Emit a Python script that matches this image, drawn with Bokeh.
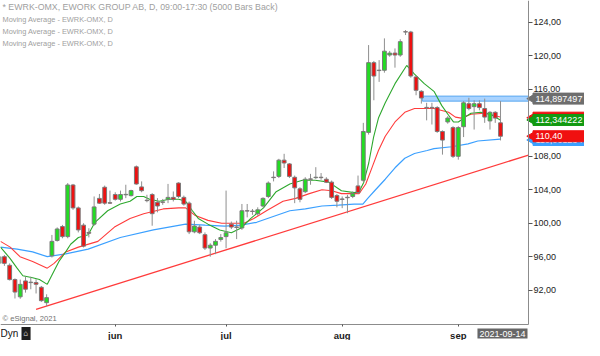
import math
from bokeh.plotting import figure
from bokeh.models import LinearAxis, FixedTicker, Label, Range1d
from bokeh.core.properties import value
from bokeh.embed import file_html
from bokeh.resources import INLINE

# ---------------- data ----------------
opens = [95.2, 96.0, 94.97, 93.26, 91.2, 93.1, 92.9, 92.9, 92.34, 90.5,
         96.1, 97.94, 99.6, 98.4, 104.57, 101.83, 99.77, 98.9, 99.89, 102.97,
         104.3, 102.45, 103.43, 102.86, 103.4, 103.3, 106.74, 104.34, 102.75, 103.43,
         102.51, 102.55, 102.86, 103.09, 104.8, 103.09, 102.4, 98.97, 99.54, 98.63,
         97.03, 97.37, 98.06, 98.4, 99.89, 99.55, 99.43, 101.5, 101.4, 101.14,
         102.06, 103.2, 105.5, 105.6, 107.54, 107.09, 105.49, 104.11, 103.77, 105.3,
         105.45, 105.5, 105.26, 104.91, 103.31, 102.9, 103.1, 103.2, 104.46, 105.14,
         110.86, 119.2, 118.3, 118.29, 120.11, 120.34, 120.11, 122.9, 122.86, 117.49,
         115.77, 113.85, 113.85, 113.83, 110.97, 112.11, 111.43, 108.0, 111.54, 114.29,
         113.94, 114.29, 113.71, 112.23, 113.26, 112.0]
closes = [96.0, 95.2, 93.26, 91.77, 92.69, 92.11, 92.95, 92.7, 90.74, 91.1,
          97.83, 99.31, 98.4, 104.57, 101.83, 99.2, 97.26, 98.8, 101.95, 102.4,
          102.4, 102.4, 102.86, 103.43, 103.45, 103.9, 104.69, 103.89, 102.7, 101.14,
          102.06, 102.5, 103.09, 102.86, 103.2, 102.29, 98.97, 99.66, 98.86, 97.03,
          97.37, 97.83, 98.29, 98.86, 99.54, 99.5, 101.49, 101.45, 101.45, 101.6,
          102.97, 104.8, 105.45, 107.54, 107.2, 105.6, 104.23, 102.86, 105.26, 105.25,
          105.5, 105.45, 104.91, 103.09, 102.63, 102.85, 103.05, 103.54, 103.66, 110.97,
          119.2, 117.6, 118.25, 120.57, 120.34, 120.11, 121.71, 122.86, 117.6, 115.89,
          114.97, 113.8, 113.8, 110.97, 109.94, 112.57, 108.0, 111.43, 114.4, 113.71,
          114.29, 113.83, 112.69, 113.26, 112.57, 110.40]
highs = [96.3, 96.2, 95.2, 93.4, 93.26, 93.6, 93.6, 93.3, 92.5, 91.5,
         98.6, 99.5, 99.8, 104.8, 104.7, 102.0, 100.0, 99.4, 103.2, 103.5,
         104.5, 103.9, 103.7, 103.9, 104.6, 104.0, 106.9, 105.0, 103.4, 103.6,
         103.0, 102.9, 104.7, 103.8, 104.9, 103.3, 102.6, 100.3, 99.8, 98.9,
         97.6, 98.1, 98.7, 103.9, 100.2, 100.3, 102.3, 102.3, 101.7, 101.9,
         103.1, 105.0, 106.2, 107.7, 108.3, 107.2, 105.7, 104.3, 105.5, 105.9,
         106.7, 106.0, 105.5, 105.1, 103.5, 103.2, 103.4, 103.8, 105.7, 112.0,
         121.3, 119.4, 119.5, 122.1, 120.6, 120.9, 122.0, 123.1, 123.0, 117.6,
         115.9, 114.4, 114.4, 114.0, 111.1, 112.8, 111.6, 111.6, 114.6, 115.0,
         114.7, 114.7, 114.9, 113.4, 113.4, 114.6]
lows = [95.0, 94.9, 93.15, 91.0, 90.97, 91.7, 92.1, 91.6, 90.6, 90.06,
        95.9, 97.8, 98.2, 98.2, 101.6, 98.9, 97.1, 98.3, 99.7, 102.3,
        102.2, 102.3, 102.7, 102.6, 103.0, 103.2, 104.6, 103.7, 102.5, 99.7,
        101.3, 102.2, 102.4, 102.6, 103.0, 102.1, 98.7, 98.8, 98.7, 96.8,
        96.0, 96.3, 97.8, 97.0, 99.3, 98.1, 99.2, 100.7, 101.0, 100.9,
        101.9, 103.0, 105.0, 105.4, 106.6, 105.4, 102.4, 102.5, 103.6, 104.6,
        105.3, 105.2, 104.8, 102.9, 101.9, 101.8, 101.2, 103.0, 103.5, 104.9,
        110.6, 114.7, 116.9, 118.0, 119.9, 118.6, 119.9, 122.5, 117.4, 115.3,
        114.3, 112.3, 111.8, 110.8, 108.2, 111.9, 107.8, 107.6, 110.3, 113.5,
        111.2, 113.5, 112.0, 111.2, 112.0, 109.9]
bars = list(range(len(opens)))

ma_green_x = [0.26, 2.10, 3.40, 4.50, 6.35, 7.64, 9.12, 10.04, 11.33, 12.62, 13.55, 15.02, 16.87, 18.16,
              20.56, 22.96, 24.81, 26.10, 27.39, 28.50, 30.34, 32.19, 34.03, 35.33, 36.62, 37.73, 39.57,
              41.79, 44.00, 45.85, 47.69, 50.09, 52.49, 55.08, 57.48, 59.87, 62.46, 64.86, 67.26, 68.20,
              69.10, 70.03, 70.95, 71.87, 73.16, 75.01, 77.22, 78.70, 80.55, 82.39, 83.87, 85.16, 86.08,
              87.01, 88.30, 89.41, 91.25, 93.10, 94.95]
ma_green_y = [97.14, 95.77, 94.63, 93.72, 93.49, 93.26, 92.69, 93.83, 95.43, 96.57, 97.49, 98.29, 98.63, 100.11,
              101.49, 102.29, 102.63, 103.20, 103.20, 102.86, 102.63, 102.86, 102.86, 102.63, 101.49, 100.57, 99.89,
              99.20, 98.86, 99.43, 100.57, 101.83, 103.77, 104.69, 105.14, 105.14, 104.91, 103.89, 103.66, 103.77,
              104.91, 107.20, 110.29, 112.57, 114.40, 116.69, 118.86, 117.83, 116.69, 115.77, 114.06, 112.91, 112.11,
              112.11, 112.69, 113.14, 113.26, 113.03, 112.34]
ma_red_x = [0.26, 2.10, 3.95, 6.35, 9.12, 10.41, 12.62, 15.02, 18.72, 21.85, 24.81, 27.39, 31.08, 34.03,
            35.33, 37.17, 39.57, 42.16, 44.56, 46.40, 48.25, 50.65, 53.79, 56.19, 58.77, 61.17, 63.02, 64.86,
            67.26, 68.20, 69.47, 70.77, 71.87, 73.16, 75.01, 76.86, 78.70, 80.55, 82.39, 85.16, 86.45, 87.56,
            89.41, 91.99, 94.95]
ma_red_y = [97.83, 97.14, 96.00, 95.43, 94.63, 95.20, 96.57, 97.14, 97.83, 99.54, 100.57, 101.14, 101.71, 101.83,
            101.83, 100.91, 100.34, 100.00, 100.00, 100.00, 100.57, 101.49, 102.63, 102.97, 103.54, 104.00, 103.89, 103.54,
            103.54, 103.54, 104.69, 106.86, 108.69, 110.40, 112.11, 113.26, 113.71, 113.71, 113.71, 113.26, 112.69, 112.57,
            113.03, 113.14, 112.69]
ma_blue_x = [0.26, 3.40, 6.35, 9.12, 12.62, 16.87, 22.96, 29.24, 35.33, 39.02, 42.71, 45.85, 48.80, 51.94,
             55.08, 58.03, 61.17, 64.30, 67.26, 68.92, 69.84, 71.32, 73.16, 75.01, 76.86, 78.70, 81.10, 82.39,
             85.72, 88.85, 90.70, 94.95]
ma_blue_y = [97.14, 96.91, 96.57, 96.00, 96.34, 96.91, 98.29, 99.20, 99.89, 99.77, 99.66, 99.77, 100.11, 100.80,
             101.49, 101.71, 102.06, 102.17, 102.29, 102.29, 102.97, 104.00, 105.26, 106.63, 107.77, 108.34, 108.69, 108.91,
             109.14, 109.49, 109.83, 110.06]

trend_x = [7.0, 100.3]
trend_y = [89.7, 108.15]
level_value = 114.897497
level_start = 80.2

y_ticks = [92, 96, 100, 104, 108, 116, 120, 124]
y_tick_labels = ["92,00", "96,00", "100,00", "104,00", "108,00", "116,00", "120,00", "124,00"]
month_pos = [22, 43, 65, 87]
month_labels = ["jun", "jul", "aug", "sep"]

last_date = "2021-09-14"
# right-axis price boxes, drawn bottom-most first
price_values = [109.95, 112.62, 112.344222, 110.40, 114.897497]
price_texts = ["110,061234", "112,571428", "112,344222", "110,40", "114,897497"]
price_colors = ["#3ba0ff", "#ee1111", "#129a12", "#f01010", "#6e6e6e"]
legend_title = "* EWRK-OMX, EWORK GROUP AB, D, 09:00-17:30 (5000 Bars Back)"
legend_lines = ["Moving Average - EWRK-OMX, D",
                "Moving Average - EWRK-OMX, D",
                "Moving Average - EWRK-OMX, D"]

# ---------------- layout ----------------
FONT = "Liberation Sans"
W, H = 584, 340
X_LO, X_HI = 0.26, 100.3          # chart window (bars)
Y_LO, Y_HI = 87.89, 126.63        # chart window (price)
CHART_W, CHART_H = 528, 324       # pixel size of the chart window
PX_PER_BAR = CHART_W / (X_HI - X_LO)
PX_PER_UNIT = CHART_H / (Y_HI - Y_LO)
xr_hi = X_LO + W / PX_PER_BAR
yr_lo = Y_HI - H / PX_PER_UNIT

p = figure(width=W, height=H, output_backend="svg", toolbar_location=None,
           x_range=Range1d(X_LO, xr_hi), y_range=Range1d(yr_lo, Y_HI),
           x_axis_location=None, y_axis_location=None,
           min_border_left=0, min_border_top=0, min_border_right=0, min_border_bottom=0)
p.grid.visible = False
p.outline_line_color = None
p.background_fill_color = "white"
p.border_fill_color = "white"

yax = LinearAxis(ticker=FixedTicker(ticks=y_ticks, minor_ticks=[]),
                 major_label_overrides=dict(zip(y_ticks, y_tick_labels)),
                 fixed_location=X_HI, bounds=(Y_LO, Y_HI))
yax.axis_line_color = "#8c8c8c"
yax.major_tick_out = 4
yax.major_tick_in = 0
yax.major_tick_line_color = "#555555"
yax.minor_tick_out = 0
yax.minor_tick_in = 0
yax.major_label_text_font = FONT
yax.major_label_text_font_size = "9px"
yax.major_label_text_color = "#222222"
yax.major_label_standoff = 1
p.add_layout(yax, "right")

xax = LinearAxis(ticker=FixedTicker(ticks=month_pos, minor_ticks=[]),
                 major_label_overrides=dict(zip(month_pos, month_labels)),
                 fixed_location=Y_LO, bounds=(X_LO, X_HI))
xax.axis_line_color = "#8c8c8c"
xax.major_tick_out = 2
xax.major_tick_in = 0
xax.major_tick_line_color = "#555555"
xax.minor_tick_out = 0
xax.minor_tick_in = 0
xax.major_label_text_font = FONT
xax.major_label_text_font_size = "9.5px"
xax.major_label_text_font_style = "bold"
xax.major_label_text_color = "#1a1a1a"
xax.major_label_standoff = 3
p.add_layout(xax, "below")

# trend line and horizontal level
p.line(trend_x, trend_y, line_color="#ff3b3b", line_width=1.3)
p.quad(left=[level_start], right=[X_HI], bottom=[level_value - 0.30], top=[level_value + 0.30],
       fill_color="#a9d3ff", line_color="#5aa8f0", line_width=1)

# moving averages
p.line(ma_blue_x, ma_blue_y, line_color="#3ba0ff", line_width=1.2)
p.line(ma_red_x, ma_red_y, line_color="#ff3c3c", line_width=1.1)
p.line(ma_green_x, ma_green_y, line_color="#2ea82e", line_width=1.1)

# candles
tops = [max(o, c) for o, c in zip(opens, closes)]
bots = [min(o, c) for o, c in zip(opens, closes)]
cols = ["#22dd22" if c >= o else "#ee1111" for o, c in zip(opens, closes)]
p.segment(x0=bars, y0=highs, x1=bars, y1=lows, line_color="#8f8f8f", line_width=1)
p.vbar(x=bars, width=0.72, top=tops, bottom=bots, fill_color=cols, line_color="#7a7a7a", line_width=1)

# legend texts
p.add_layout(Label(x=2, y=H - 6, x_units="screen", y_units="screen", text=legend_title,
                   text_font=FONT, text_font_size="8.8px", text_color="#a0a0a0", text_baseline="middle"))
for k, t in enumerate(legend_lines):
    p.add_layout(Label(x=2, y=H - 19 - 12.0 * k, x_units="screen", y_units="screen", text=t,
                       text_font=FONT, text_font_size="7.4px", text_color="#a0a0a0",
                       text_baseline="middle"))
p.add_layout(Label(x=2, y=H - CHART_H + 6, x_units="screen", y_units="screen", text="\u00a9 eSignal, 2021",
                   text_font=FONT, text_font_size="7.6px", text_color="#707070", text_baseline="middle"))

# bottom strip
p.add_layout(Label(x=0, y=7, x_units="screen", y_units="screen", text="Dyn",
                   text_font=FONT, text_font_size="10px", text_color="#111111", text_baseline="middle"))
p.add_layout(Label(x=21, y=7, x_units="screen", y_units="screen", text="\u2302",
                   text_font="DejaVu Sans", text_font_size="8px", text_color="#aaaaaa", text_baseline="middle",
                   background_fill_color="#1e1e1e", padding=2))
p.add_layout(Label(x=CHART_W - 1, y=7, x_units="screen", y_units="screen", text=last_date,
                   text_font=FONT, text_font_size="9px", text_color="white", text_baseline="middle",
                   text_align="right", background_fill_color="#676767", padding=2))

# price boxes on the right axis: box + arrow + text, stacked in drawing order
box_left = X_HI + 4.5 / PX_PER_BAR
half_h = 5.5 / PX_PER_UNIT
for v, t, c in zip(price_values, price_texts, price_colors):
    p.quad(left=[box_left], right=[xr_hi], bottom=[v - half_h], top=[v + half_h],
           fill_color=c, line_color=c, line_width=1)
    p.scatter(x=[X_HI + 3.5 / PX_PER_BAR], y=[v], marker="triangle", angle=math.pi / 2,
              size=9, fill_color=c, line_color=c)
    p.text(x=[X_HI], y=[v], text=[t], x_offset=7, text_baseline="middle", text_align="left",
           text_color="white", text_font=value(FONT), text_font_size=value("9px"))

open("out.html", "w").write(file_html(p, INLINE))
